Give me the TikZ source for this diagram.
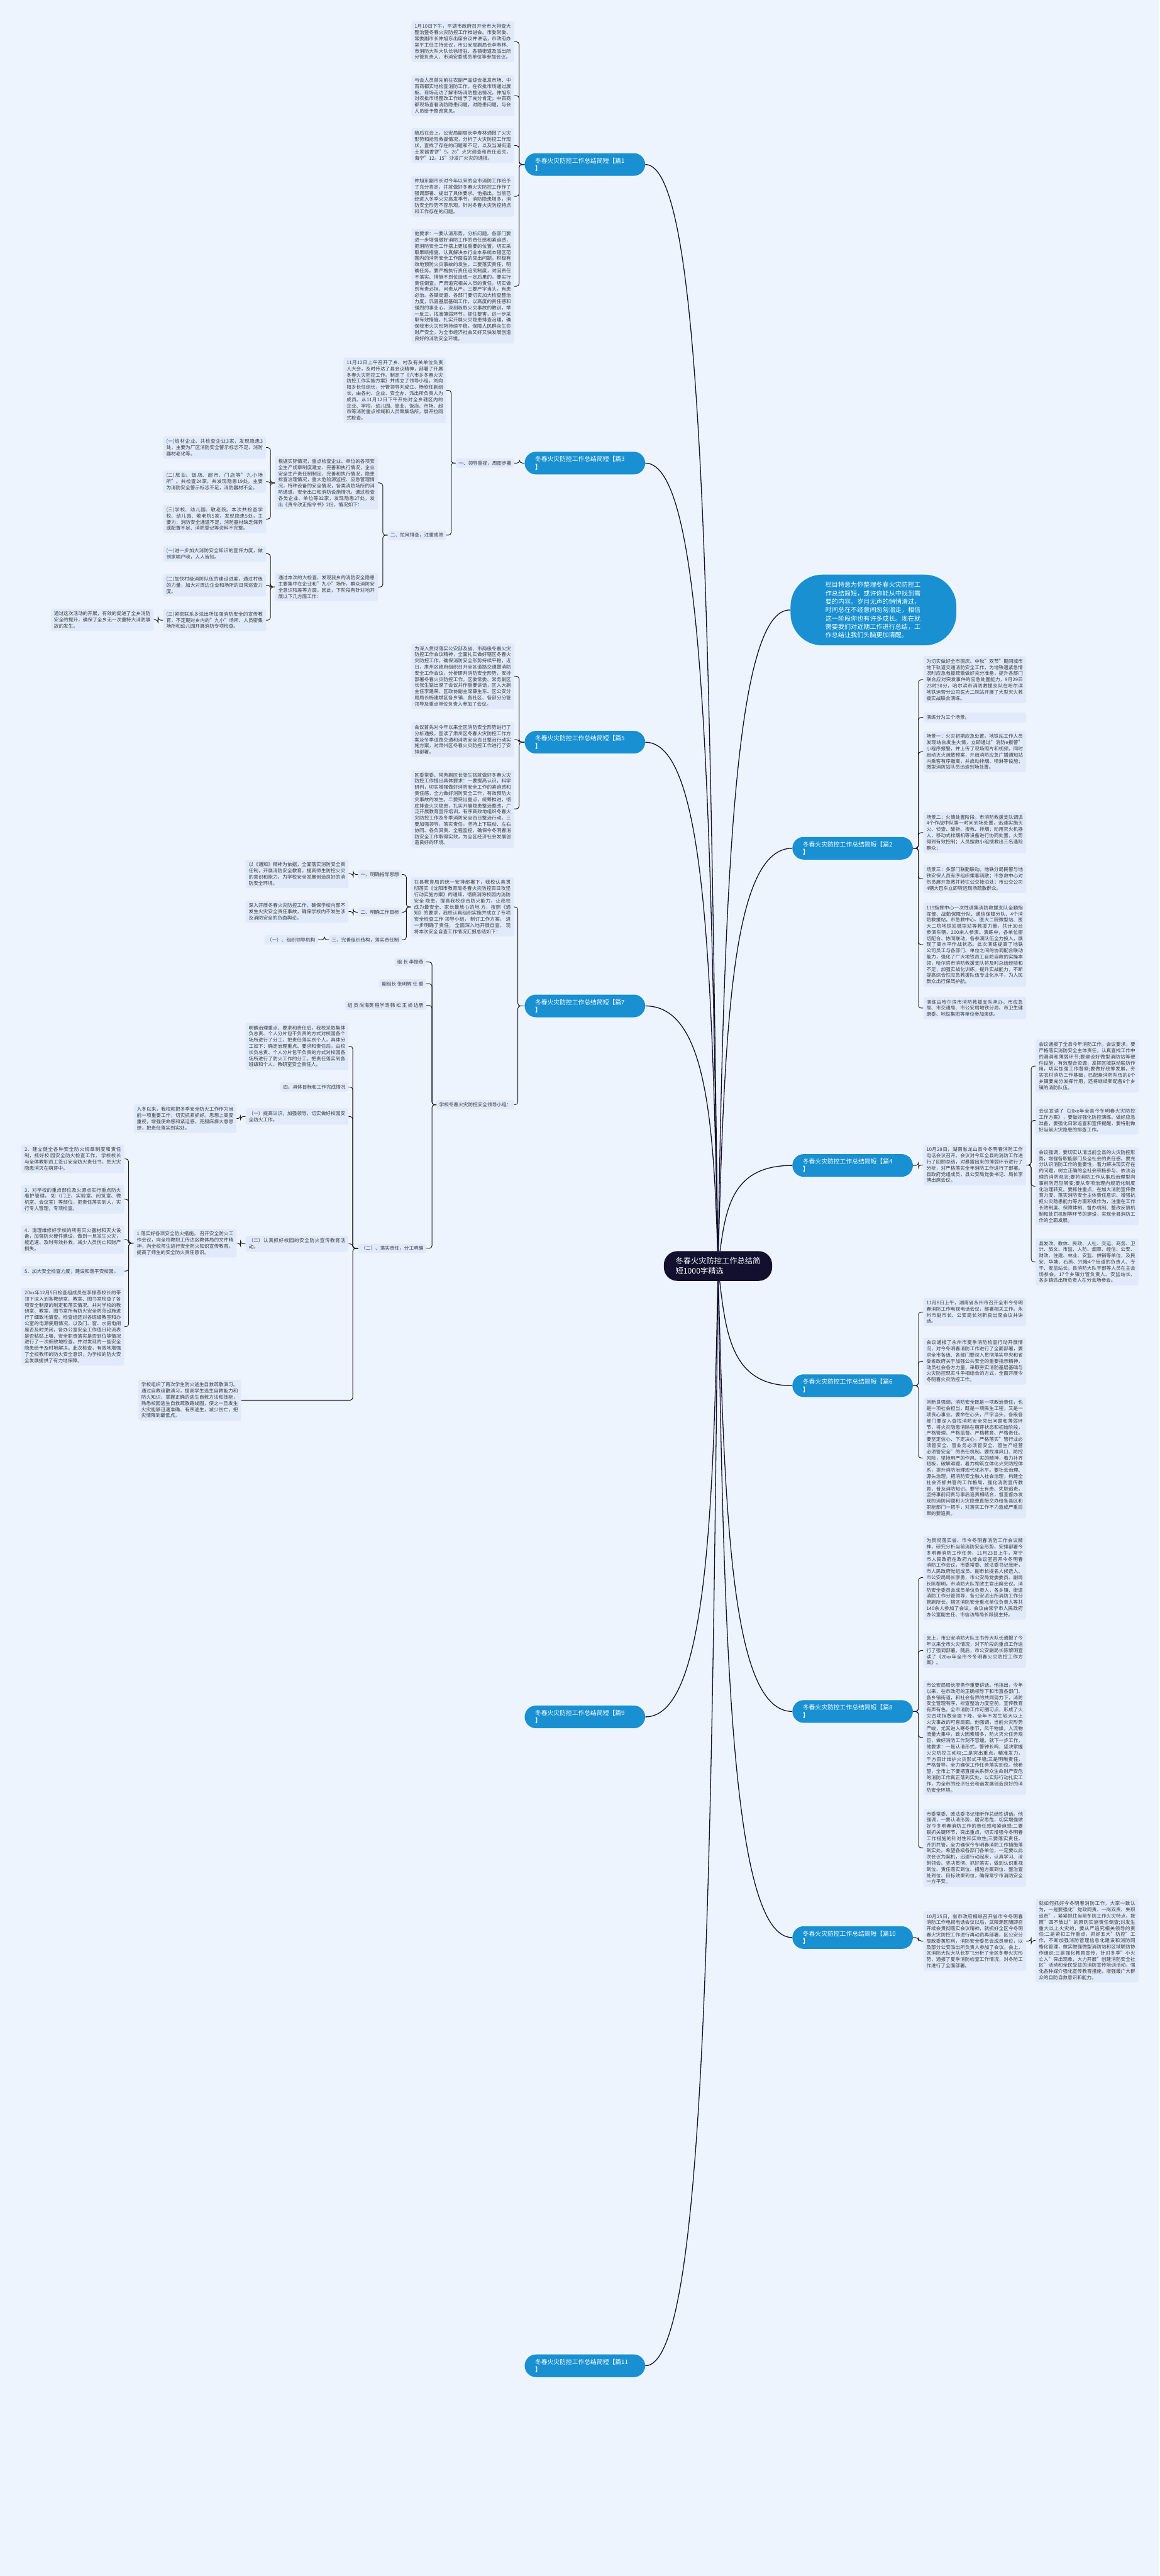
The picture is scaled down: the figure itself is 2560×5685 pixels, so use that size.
\documentclass[tikz,border=0pt]{standalone}
\usepackage{fontspec}
\setmainfont{Noto Sans CJK SC}
\XeTeXlinebreaklocale "zh"
\XeTeXlinebreakskip=0pt plus 1pt
\setlength\parindent{0pt}
\usetikzlibrary{calc}
\definecolor{bgc}{RGB}{238,244,254}
\definecolor{leafbg}{RGB}{224,234,250}
\definecolor{txt}{RGB}{58,58,58}
\definecolor{brblue}{RGB}{24,144,210}
\definecolor{navy}{RGB}{18,16,46}
\newcommand\lf{\fontsize{10.6}{13.6}\selectfont}
\newcommand\brf{\fontsize{13.6}{17}\selectfont}
\newcommand\introf{\fontsize{14}{18.5}\selectfont}
\newcommand\cenf{\fontsize{17}{22}\selectfont}
\pgfdeclarelayer{bg}\pgfdeclarelayer{edges}\pgfsetlayers{bg,edges,main}
\newcommand\cL[3]{\begin{pgfonlayer}{edges}\draw[conn] (#1.west) -- ++(-#3,0) |- (#2.east);\end{pgfonlayer}}
\newcommand\cR[3]{\begin{pgfonlayer}{edges}\draw[conn] (#1.east) -- ++(#3,0) |- (#2.west);\end{pgfonlayer}}
\tikzset{
 leaf/.style={fill=leafbg, rounded corners=4pt, text width=213pt, inner xsep=7pt, inner ysep=6pt, font=\lf, text=txt, align=justify, anchor=north west},
 lab/.style={fill=leafbg, rounded corners=4pt, inner xsep=6pt, inner ysep=5pt, font=\lf, text=txt, anchor=east},
 br/.style={fill=brblue, text=white, rounded corners=25pt, text width=220pt, inner xsep=23pt, minimum height=50pt, font=\brf, align=left, anchor=west},
 intro/.style={fill=brblue, text=white, rounded corners=70pt, text width=212pt, inner xsep=77pt, inner ysep=16pt, font=\introf, align=left, anchor=north west},
 cen/.style={fill=navy, text=white, rounded corners=30pt, inner xsep=26pt, inner ysep=14pt, font=\cenf, align=left},
 conn/.style={draw=black!90, line width=1.3pt, rounded corners=6pt},
 mainc/.style={draw=navy, line width=1.8pt},
}
\begin{document}
\begin{tikzpicture}[x=1pt,y=-1pt]
\begin{pgfonlayer}{bg}
\fill[bgc] (0,0) rectangle (2560,5685);
\end{pgfonlayer}
\useasboundingbox (0,0) rectangle (2560,5685);

% central
\node[cen] (c) at (1585,2794) {冬春火灾防控工作总结简\\短1000字精选};

% ===== 篇1 =====
\node[br] (b1) at (1158,363) {冬春火灾防控工作总结简短【篇1\\】};
\node[leaf] (a11) at (908,47) {1月10日下午，平湖市政府召开全市大排查大整治暨冬春火灾防控工作推进会。市委常委、常委副市长仲旭东出席会议并讲话，市政府办吴平主任主持会议，市公安局副局长李寿林、市消防大队大队长徐培驻、各镇街道及派出所分管负责人、市消安委成员单位等参加会议。};
\node[leaf] (a12) at (908,166) {与会人员首先前往农副产品综合批发市场、中百商都实地检查消防工作。在农批市场通过展板、现场走访了解市场消防整治情况，仲旭东对农批市场整改工作给予了充分肯定；中百商都现场查看消防隐患问题，对隐患问题，与会人员给予整改意见。};
\node[leaf] (a13) at (908,283) {随后在会上，公安局副局长李寿林通报了火灾形势和抢险救援情况，分析了火灾防控工作现状，查找了存在的问题和不足，以及当湖街道土家酱香饼"9。26"火灾调查和责任追究，海宁"12。15"沙发厂火灾的通报。};
\node[leaf] (a14) at (908,388) {仲旭东副市长对今年以来的全市消防工作给予了充分肯定，并就做好冬春火灾防控工作作了强调部署、提出了具体要求。他指出，当前已经进入冬季火灾高发季节，消防隐患增多，消防安全形势不容乐观。针对冬春火灾防控特点和工作存在的问题。};
\node[leaf] (a15) at (908,505) {他要求：一要认清形势，分析问题。各部门要进一步增强做好消防工作的责任感和紧迫感，把消防安全工作摆上更加重要的位置，切实采取果断措施，认真解决本行业本系统本辖区范围内的消防安全工作面临的突出问题，积极有效地预防火灾事故的发生。二要落实责任，明确任务。要严格执行责任追究制度，对因责任不落实、措施不到位造成一定后果的，要实行责任倒查，严肃追究相关人员的责任，切实做到有责必担、问责从严。三要严字当头，有患必治。各镇街道、各部门要切实加大检查整治力度，巩固基层基础工作，以高度的责任感和强烈的事业心，深刻吸取火灾事故的教训，举一反三，找准薄弱环节，抓住要害，进一步采取有效措施，扎实开展火灾隐患排查治理，确保我市火灾形势持续平稳，保障人民群众生命财产安全，为全市经济社会又好又快发展创造良好的消防安全环境。};
\cL{b1}{a11}{12}\cL{b1}{a12}{12}\cL{b1}{a13}{12}\cL{b1}{a14}{12}\cL{b1}{a15}{12}

% ===== 篇3 =====
\node[br] (b3) at (1158,1022) {冬春火灾防控工作总结简短【篇3\\】};
\node[lab] (a31) at (1135,1022) {一、领导重视，周密步署};
\node[leaf] (a32) at (758,789) {11月12日上午召开了乡、村及有关单位负责人大会，及时传达了县会议精神，部署了开展冬春火灾防控工作。制定了《六市乡冬春火灾防控工作实施方案》并成立了领导小组，刘向阳乡长任组长，分管领导刘成江、杨欣任副组长，由各村、企业、安全办、派出所负责人为成员。从11月12日下午开始对全乡辖区内的企业、学校、幼儿园、旅业、饭店、市场、超市等消防重点领域和人员聚集场所，展开拉网式检查。};
\node[lab] (a33) at (985,1181) {二、拉网排查，注重成效};
\node[leaf] (a34) at (607,1007) {根据实际情况，重点检查企业、单位的各项安全生产规章制度建立、完善和执行情况，企业安全生产责任制制定、完善和执行情况，隐患排查治理情况，重大危险源监控、应急管理情况，特种设备的安全情况，各类消防场所的消防通道、安全出口和消防设施情况，通过检查各类企业、单位等32家，发现隐患27处，发出《责令改正指令书》2份，情况如下：};
\node[leaf] (a35) at (607,1264) {通过本次的大检查，发现我乡的消防安全隐患主要集中在企业和"九小"场所，群众消防安全意识较差等方面。因此，下阶段有针对地开展以下几方面工作：};
\node[leaf] (a36) at (360,963) {(一)焰材企业。共检查企业3家，发现隐患3处，主要为厂区消防安全警示标志不足、消防器材老化等。};
\node[leaf] (a37) at (360,1038) {(二)旅业、饭店、超市、门店等"九小场所"。共检查24家，共发现隐患19处，主要为消防安全警示标志不足，消防器材不全。};
\node[leaf] (a38) at (360,1114) {(三)学校、幼儿园、敬老院。本次共检查学校、幼儿园、敬老院5家，发现隐患5处，主要为：消防安全通道不足，消防器材缺乏保养或配置不足、消防登记等资料不完整。};
\node[leaf] (a39) at (360,1204) {(一)进一步加大消防安全知识的宣传力度，做到家喻户晓，人人皆知。};
\node[leaf] (a3a) at (360,1267) {(二)加快村级消防队伍的建设进度，通过村级的力量，加大对周边企业和场所的日常巡查力度。};
\node[leaf] (a3b) at (360,1344) {(三)紧密联系乡派出所加强消防安全的宣传教育，不定期对乡内的"九小"场所、人员密集场所和幼儿园开展消防专项检查。};
\node[leaf] (a3c) at (112,1343) {通过这次活动的开展，有效的促进了全乡消防安全的提升，确保了全乡无一次重特大消防事故的发生。};
\cL{b3}{a31}{11}\cL{a31}{a32}{10}\cL{a31}{a33}{10}\cL{a33}{a34}{11}\cL{a33}{a35}{11}
\cL{a34}{a36}{10}\cL{a34}{a37}{10}\cL{a34}{a38}{10}\cL{a35}{a39}{10}\cL{a35}{a3a}{10}\cL{a35}{a3b}{10}\cL{a3b}{a3c}{11}

% ===== 篇5 =====
\node[br] (b5) at (1158,1638) {冬春火灾防控工作总结简短【篇5\\】};
\node[leaf] (a51) at (908,1420) {为深入贯彻落实公安部及省、市两级冬春火灾防控工作会议精神，全面扎实做好辖区冬春火灾防控工作，确保消防安全形势持续平稳，近日，肃州区政府组织召开全区道路交通暨消防安全工作会议，分析研判消防安全形势，安排部署冬春火灾防控工作。区委常委、常务副区长张生铭出席了会议并作重要讲话，区人大副主任李建荣、区政协副主席薛生东、区公安分局局长杨建斌区各乡镇、各社区、各部分分管领导及重点单位负责人参加了会议。};
\node[leaf] (a52) at (908,1594) {会议首先对今年以来全区消防安全形势进行了分析通报，宣读了肃州区冬春火灾防控工作方案及冬季道路交通和消防安全百日整治行动实施方案，对肃州区冬春火灾防控工作进行了安排部署。};
\node[leaf] (a53) at (908,1699) {区委常委、常务副区长张生铭就做好冬春火灾防控工作提出具体要求：一要提高认识，科学研判，切实增强做好消防安全工作的紧迫感和责任感，全力做好消防安全工作，有效预防火灾事故的发生。二要突出重点，统筹推进，彻底排查火灾隐患，扎实开展隐患整治整改，广泛开展教育宣传培训，有序高效地组织冬春火灾防控工作及冬季消防安全百日整治行动。三要加强领导，落实责任，坚持上下联动、左右协同、各负其责、全程监控，确保今冬明春消防安全工作取得实效，为全区经济社会发展创造良好的环境。};
\cL{b5}{a51}{12}\cL{b5}{a52}{12}\cL{b5}{a53}{12}

% ===== 篇7 =====
\node[br] (b7) at (1158,2220) {冬春火灾防控工作总结简短【篇7\\】};
\node[leaf] (a71) at (907,1936) {在县教育局的统一安排部署下，我校认真贯彻落实《沈阳市教育局冬春火灾防控百日攻坚行动实施方案》的通知，彻底消除校园内消防安全 隐患，提高我校综合防火能力，让我校成为最安全、家长最放心的地 方，按照《通知》的要求，我校认真组织实施并成立了专项安全检查工作 领导小组， 制订工作方案， 进一步明确了责任， 全面深入地开展自查， 现将本次安全自查工作情况汇报总结如下：};
\node[lab] (a72) at (887,1930) {一、明确指导思想};
\node[lab] (a73) at (887,2013) {二、明确工作目标};
\node[lab] (a74) at (887,2074) {三、完善组织结构，落实责任制};
\node[leaf] (a75) at (542,1897) {以《通知》精神为依据，全面落实消防安全责任制，开展消防安全教育，提高师生防控火灾的意识和能力，为学校安全发展创造良好的消防安全环境。};
\node[leaf] (a76) at (542,1987) {深入开展冬春火灾防控工作，确保学校内部不发生火灾安全责任事故，确保学校内不发生涉及消防安全的负面舆论。};
\node[lab] (a77) at (702,2074) {（一）、组织领导机构};
\node[lab] (a78) at (1135,2438) {学校冬春火灾防控安全领导小组：};
\node[lab] (a79) at (941,2123) {组 长 李振燕};
\node[lab] (a7a) at (941,2171) {副组长 张明辉 任 重};
\node[lab] (a7b) at (941,2219) {组 员 尚海英 程学涛 韩 松 王 娇 边册};
\node[lab] (a7c) at (941,2755) {（二）、落实责任，分工明确};
\node[leaf] (a7d) at (542,2257) {明确治理重点、要求和责任后，我校采取集体负总责、个人分片包干负责的方式对校园各个场所进行了分工，把责任落实到个人，具体分工如下：确定治理重点、要求和责任后，由校长负总责、个人分片包干负责的方式对校园各场所进行了防火工作的分工，把责任落实到各班级和个人，教研室安全责任人。};
\node[lab] (a7e) at (769,2399) {四、具体目标和工作完成情况};
\node[leaf] (a7f) at (542,2446) {（一）提高认识，加强领导，切实做好校园安全防火工作。};
\node[leaf] (a7g) at (295,2437) {入冬以来，我校就把冬季安全防火工作作为当前一项重要工作，切实抓紧抓好。思想上高度重视，增强使命感和紧迫感，克服麻痹大意思想，把责任落实到实处。};
\node[leaf] (a7h) at (542,2727) {（二）认真抓好校园的安全防火宣传教育活动。};
\node[leaf] (a7i) at (295,2712) {1.落实好各项安全防火措施。 召开安全防火工作会议，向全校教职工传达区教体局的文件精神，向全校师生进行安全防火知识宣传教育。提高了师生的安全防火责任意识。};
\node[leaf] (a7j) at (47,2526) {2．建立健全各种安全防火规章制度和责任制，抓好校 园安全防火检查工作， 学校校长与全体教职员工签订安全防火责任书，把火灾隐患消灭在萌芽中。};
\node[leaf] (a7k) at (47,2615) {3．对学校的重点部位及火源点实行重点防火看护管理， 如（门卫、实验室、阅览室、微机室、会议室）等部位，把责任落实到人，实行专人管理，专项检查。};
\node[leaf] (a7l) at (47,2704) {4．清理维修好学校的所有灭火器材和灭火设备，加强防火硬件建设，做到一旦发生火灾，能迅速、及时有效扑救，减少人员伤亡和财产损失。};
\node[leaf] (a7m) at (47,2794) {5．加大安全检查力度，建设和谐平安校园。};
\node[leaf] (a7n) at (47,2842) {20xx年12月5日检查组成员在李振燕校长的带领下深入到各教研室、教室、图书室检查了各项安全制度的制定和落实情况。并对学校的教研室、教室、图书室所有防火安全防范设施进行了细致地清查。检查组还对各班级教室和办公室的电源使用情况，以及门、窗、水房电闸是否及时关闭，各办公室安全工作值日轮流表是否粘贴上墙、安全职责落实是否到位等情况进行了一次细致地检查。并对发现的一些安全隐患给予及时地解决。此次检查，有效地增强了全校教师的防火安全意识，为学校的防火安全发展提供了有力地保障。};
\node[leaf] (a7o) at (305,3045) {学校组织了两次学生防火逃生自救疏散演习。通过自救疏散演习，提高学生逃生自救能力和防火知识，掌握正确的逃生自救方法和技能，熟悉校园逃生自救疏散路线图，使之一旦发生火灾能够迅速准确、有序逃生，减少伤亡，把灾情降到最低点。};
\cL{b7}{a71}{15}\cL{b7}{a78}{15}
\cL{a71}{a72}{10}\cL{a71}{a73}{10}\cL{a71}{a74}{10}
\cL{a72}{a75}{10}\cL{a73}{a76}{10}\cL{a74}{a77}{10}
\cL{a78}{a79}{10}\cL{a78}{a7a}{10}\cL{a78}{a7b}{10}\cL{a78}{a7c}{10}
\cL{a7c}{a7d}{12}\cL{a7c}{a7e}{12}\cL{a7c}{a7f}{12}\cL{a7c}{a7h}{12}\cL{a7c}{a7o}{12}
\cL{a7f}{a7g}{11}\cL{a7h}{a7i}{11}
\cL{a7i}{a7j}{11}\cL{a7i}{a7k}{11}\cL{a7i}{a7l}{11}\cL{a7i}{a7m}{11}\cL{a7i}{a7n}{11}

% ===== 篇9 / 篇11 =====
\node[br] (b9) at (1158,3789) {冬春火灾防控工作总结简短【篇9\\】};
\node[br] (b11) at (1158,5221) {冬春火灾防控工作总结简短【篇11\\】};

% ===== intro =====
\node[intro] (intro) at (1745,1268) {栏目特意为你整理冬春火灾防控工\\作总结简短，或许你能从中找到需\\要的内容。岁月无声的悄悄滑过，\\时间总在不经意间匆匆溜走，相信\\这一阶段你也有许多成长。现在就\\需要我们对近期工作进行总结，工\\作总结让我们头脑更加清醒。};

% ===== 篇2 =====
\node[br] (b2) at (1749,1872) {冬春火灾防控工作总结简短【篇2\\】};
\node[leaf] (a21) at (2038,1448) {为切实做好全市国庆、中秋"双节"期间城市地下轨道交通消防安全工作，为地铁遇紧急情况时应急救援疏散做好充分准备，提升各部门联合应对突发事件的应急处置能力，9月29日23时30分，哈尔滨市消防救援支队在哈尔滨地铁运营分公司医大二院站开展了大型灭火救援实战联合演练。};
\node[leaf] (a22) at (2038,1572) {演练分为三个场景。};
\node[leaf] (a23) at (2038,1614) {场景一：火灾初期应急处置。地铁站工作人员发现站台发生火情，立即通过"消防e报警"小程序报警，并上传了现场照片和视频，同时启动灭火疏散预案，开启消防应急广播通知站内乘客有序撤离，并启动排烟、喷淋等设施；微型消防站队员迅速到场处置。};
\node[leaf] (a24) at (2038,1792) {场景二：火情处置阶段。市消防救援支队调派4个作战中队第一时间到场处置，迅速实施灭火、侦查、破拆、搜救、排烟；动用灭火机器人，移动式排烟机等设备进行协同处置，火势得到有效控制；人员搜救小组搜救出三名遇险群众；};
\node[leaf] (a25) at (2038,1908) {场景三：多部门联勤联动。地铁分局民警与地铁安保人员有序组织乘客疏散；市急救中心对伤员展开急救并转往公交接泊处；市公交公司4辆大巴车立即转运现场疏散群众。};
\node[leaf] (a26) at (2038,1992) {119指挥中心一次性调集消防救援支队全勤指挥部、战勤保障分队、通信保障分队、4个消防救援站，市急救中心、医大二院微型站、医大二院地铁站微型站等救援力量，共计30台参演车辆、200余人参演。演练中，各单位密切配合、协同联动，各参演队伍全力投入，展现了高水平作战状态。此次演练提高了地铁公司员工与各部门、单位之间的协调配合联动能力，强化了广大地铁员工自防自救的实操本领，哈尔滨市消防救援支队将及时总结经验和不足，加强实战化训练，提升实战能力，不断提高综合性应急救援队伍专业化水平，为人民群众出行保驾护航。};
\node[leaf] (a27) at (2038,2200) {演练由哈尔滨市消防救援支队承办。市应急局、市交通局、市公安局地铁分局、市卫生健康委、地铁集团等单位参加演练。};
\cR{b2}{a21}{12}\cR{b2}{a22}{12}\cR{b2}{a23}{12}\cR{b2}{a24}{12}\cR{b2}{a25}{12}\cR{b2}{a26}{12}\cR{b2}{a27}{12}

% ===== 篇4 =====
\node[br] (b4) at (1749,2572) {冬春火灾防控工作总结简短【篇4\\】};
\node[leaf] (a41) at (2038,2526) {10月28日，湖南省龙山县今冬明春消防工作电话会议召开。会议对今年全县的消防工作进行了回顾总结，对暴露出来的薄弱环节进行了分析，对严格落实全年消防工作进行了部署。县政府党组成员，县公安局党委书记、局长李博出席会议。};
\node[leaf] (a42) at (2286,2294) {会议通报了全县今年消防工作。会议要求，要严格落实消防安全主体责任，认真查找工作中的漏洞和薄弱环节;要建设好微型消防站等硬件设施，有效整合资源，发挥区域联动联防作用，切实加强工作督察;要做好统筹发展，夯实农村消防工作基础，已配备消防队伍的6个乡镇要充分发挥作用，还将继续新配备6个乡镇的消防队伍。};
\node[leaf] (a43) at (2286,2441) {会议宣读了《20xx年全县今冬明春火灾防控工作方案》，要做好强化防控演练、做好应急准备，要强化日常巡查和宣传提醒，要特别做好当前火灾隐患的排查工作。};
\node[leaf] (a44) at (2286,2532) {会议强调，要切实认清当前全县的火灾防控形势，增强各职能部门及全社会的责任感。要充分认识消防工作的重要性，着力解决现实存在的问题，树立正确的全社会积极参与、依法治理的消防观念;要将消防工作从事后治理型向事前防范型转变;要从专项治理向规范化制度化治理转变。要抓住重点，在加大消防宣传教育力度、落实消防安全主体责任意识、增强抗拒火灾隐患能力等方面积极作为，注重在工作长效制度、保障体制、督办机制、整改反馈机制和处罚机制等环节的建设，实现全县消防工作的全面发展。};
\node[leaf] (a45) at (2286,2733) {县发改、教体、民政、人社、交运、商务、卫计、旅文、市监、人防、烟草、经信、公安、财政、住建、林业、安监、供销等单位，及民安、华塘、石羔、兴隆4个街道的负责人、专干、安监站长，县消防大队干部等人员在主会场参会。17个乡镇分管负责人、安监站长、各乡镇派出所负责人在分会场参会。};
\cR{b4}{a41}{12}\cR{a41}{a42}{11}\cR{a41}{a43}{11}\cR{a41}{a44}{11}\cR{a41}{a45}{11}

% ===== 篇6 =====
\node[br] (b6) at (1749,3058) {冬春火灾防控工作总结简短【篇6\\】};
\node[leaf] (a61) at (2038,2864) {11月8日上午，湖南省永州市召开全市今冬明春消防工作电视电话会议，部署相关工作。永州市副市长、公安局长刘新良出席会议并讲话。};
\node[leaf] (a62) at (2038,2952) {会议通报了永州市夏季消防检查行动开展情况，对今冬明春消防工作进行了全面部署，要求全市各级、各部门要深入贯彻落实中央和省委省政府关于加强公共安全的重要指示精神，动员社会各方力量，采取夯实消防基层基础与火灾防控现实斗争相结合的方式，全面开展今冬明春火灾防控工作。};
\node[leaf] (a63) at (2038,3084) {刘新良强调，消防安全既是一项政治责任，也是一项社会担当，既是一项民生工程，又是一项良心事业。要命在心头，严字当头，各级各部门要深入查找消防安全突出问题和薄弱环节，将火灾隐患消除在萌芽状态和初始阶段，严格管理、严格监督、严格教育、严格责任。要坚定信心、下定决心，严格落实"管行业必须管安全、管业务必须管安全、管生产经营必须管安全"的责任机制。要找准风口、防控风险，坚持用严的作风、实的精神，着力补齐短板，破解难题，着力构筑立体化火灾防控体系，提升消防治理现代化水平。要社会治理、源头治理，把消防安全融入社会治理，构建全社会齐抓共管的工作格局，强化消防宣传教育，普及消防知识。要守土有责、失职追责，坚持事前问责与事后追责相结合，督查督办发现的消防问题和火灾隐患直接交办给各县区和职能部门一把手，对落实工作不力造成严重后果的要追责。};
\cR{b6}{a61}{12}\cR{b6}{a62}{12}\cR{b6}{a63}{12}

% ===== 篇8 =====
\node[br] (b8) at (1749,3777) {冬春火灾防控工作总结简短【篇8\\】};
\node[leaf] (a81) at (2038,3389) {为贯彻落实省、市今冬明春消防工作会议精神，研究分析当前消防安全形势，安排部署今冬明春消防工作任务，11月23日上午，常宁市人民政府在政府九楼会议室召开今冬明春消防工作会议。市委常委、政法委书记张昕，市人民政府党组成员、副市长提名人候选人、市公安局局长廖勇，市公安局党委委员、副局长陈黎明，市消防大队军政主官出席会议。消防安全委员会成员单位负责人，各乡镇、街道消防工作分管领导，各公安派出所消防工作分管副所长，辖区消防安全重点单位负责人等共140余人参加了会议。会议由常宁市人民政府办公室副主任、市信访局局长段骁主持。};
\node[leaf] (a82) at (2038,3604) {会上，市公安消防大队王书传大队长通报了今年以来全市火灾情况，对下阶段的重点工作进行了强调部署。随后，市公安副局长陈黎明宣读了《20xx年全市今冬明春火灾防控工作方案》。};
\node[leaf] (a83) at (2038,3708) {市公安局局长廖勇作重要讲话。他指出，今年以来，在市政府的正确领导下和市直各部门、各乡镇街道，和社会各界的共同努力下，消防安全管理有序，排查整治力度空前，宣传教育有声有色。全市消防工作可圈可点，形成了火灾四项指数全面下降，全年不发生较大以上火灾事故的可喜局面。他强调，当前火灾形势严峻，尤其进入寒冬季节，风干物燥，人流物流量大集中，致火因素增多，防火灭火任务艰巨，做好消防工作刻不容缓。就下一步工作，他要求：一是认清形式，警钟长鸣，坚决掌握火灾防控主动权;二是突出重点，精准发力，千方百计维护火灾形式平稳;三是明晰责任，严格督导，全力确保工作任务落实到位。他希望，全市上下要把直接关系群众生命财产安危的消防工作真正落到实处，以实际行动扎实工作，为全市的经济社会和谐发展创造良好的消防安全环境。};
\node[leaf] (a84) at (2038,3992) {市委常委、政法委书记张昕作总结性讲话。他强调，一要认清形势，居安思危，切实增强做好今冬明春消防工作的责任感和紧迫感;二要狠抓关键环节，突出重点，切实增强今冬明春工作措施的针对性和实效性;三要落实责任，齐抓共管，全力确保今冬明春消防工作措施落到实处。希望各级各部门各单位，一定要以此次会议为契机，迅速行动起来，认真学习、深刻领会、坚决贯彻、抓好落实，做到认识重视到位、责任落实到位、措施方案到位、整治查处到位、目标效果到位，确保常宁市消防安全一方平安。};
\cR{b8}{a81}{12}\cR{b8}{a82}{12}\cR{b8}{a83}{12}\cR{b8}{a84}{12}

% ===== 篇10 =====
\node[br] (b10) at (1749,4276) {冬春火灾防控工作总结简短【篇10\\】};
\node[leaf] (a101) at (2038,4218) {10月25日，省市政府相继召开省市今冬明春消防工作电视电话会议以后，武陵源区随即召开续会贯彻落实会议精神，就抓好全区今冬明春火灾防控工作进行再动员再部署，区公安分局政委黄胜利，消防安全委员会成员单位，以及部分公安派出所负责人参加了会议。会上，区消防大队大队长罗飞分析了全区冬春火灾形势，通报了夏季消防检查工作情况，对冬防工作进行了全面部署。};
\node[leaf] (a102) at (2286,4190) {就如何抓好今冬明春消防工作，大家一致认为，一是要强化"党政同责、一岗双责、失职追责"，紧紧抓住当前冬防工作火灾特点，按照"四不放过"的原则实施责任倒查;对发生重大以上火灾的，要从严追究相关领导的责任;二是紧扣工作重点，抓好五大"防控"工作，不断加强消防管理信息化建设和消防网格化管理，做实做强微型消防站和区域联防协作组织;三是强化教育宣传，针对冬季"小火亡人"突出现象，大力开展"创建消防安全社区"活动和全民受益的消防宣传培训活动，强化各种媒介强化宣传教育措施，增强最广大群众的自防自救意识和能力。};
\cR{b10}{a101}{12}\cR{a101}{a102}{11}

% ===== main curves =====
\begin{pgfonlayer}{edges}
\draw[mainc] (c) .. controls (1566,1335) and (1553,363) .. (b1.east);
\draw[mainc] (c) .. controls (1569,1731) and (1553,1022) .. (b3.east);
\draw[mainc] (c) .. controls (1572,2100) and (1553,1638) .. (b5.east);
\draw[mainc] (c) .. controls (1575,2450) and (1553,2220) .. (b7.east);
\draw[mainc] (c) .. controls (1575,3391) and (1553,3789) .. (b9.east);
\draw[mainc] (c) .. controls (1570,4250) and (1553,5221) .. (b11.east);
\draw[mainc] (c) .. controls (1598,1925) and (1625,1340) .. (intro.west);
\draw[mainc] (c) .. controls (1600,2241) and (1619,1872) .. (b2.west);
\draw[mainc] (c) .. controls (1603,2661) and (1619,2572) .. (b4.west);
\draw[mainc] (c) .. controls (1603,2952) and (1619,3058) .. (b6.west);
\draw[mainc] (c) .. controls (1600,3384) and (1619,3777) .. (b8.west);
\draw[mainc] (c) .. controls (1598,3683) and (1619,4276) .. (b10.west);
\end{pgfonlayer}
\end{tikzpicture}
\end{document}
